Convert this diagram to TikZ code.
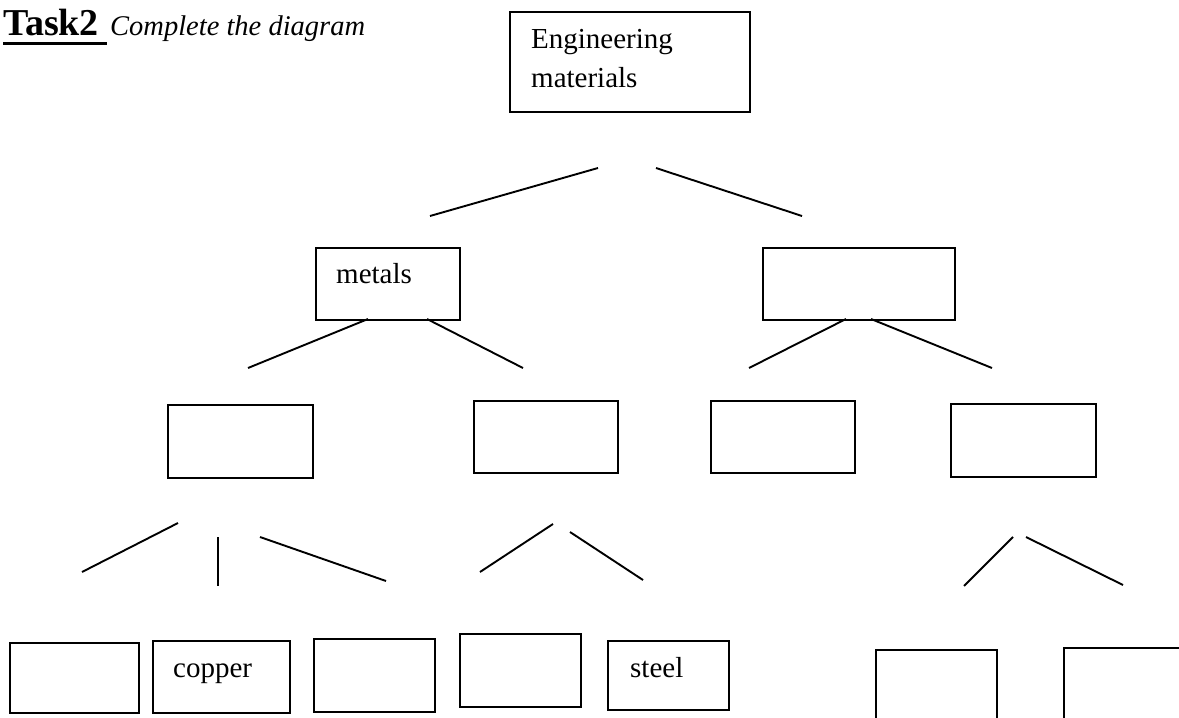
\documentclass[tikz,border=0pt]{standalone}
\usepackage{fontspec}
\setmainfont{Liberation Serif}
\begin{document}
\begin{tikzpicture}[x=1pt,y=-1pt,
  box/.style={draw=black,line width=2pt,rectangle,inner sep=0pt,anchor=north west},
  lbl/.style={inner sep=0pt,anchor=base west,font=\fontsize{29}{39}\selectfont},
  conn/.style={draw=black,line width=1.9pt}]
\clip (0,0) rectangle (1179,718);
\useasboundingbox (0,0) rectangle (1179,718);
% title
\node[inner sep=0pt,anchor=base west,font=\fontsize{38}{42}\selectfont\bfseries] (task) at (3,35) {Task2};
\node[inner sep=0pt,anchor=base west,font=\fontsize{28.5}{34}\selectfont\itshape] (sub) at (110,35) {Complete the diagram};
\coordinate (ul1) at (3,43);
\coordinate (ul2) at (107,43);
\draw[line width=3pt] (ul1) -- (ul2);
% boxes, level 0/1
\node[box,minimum width=240pt,minimum height=100pt] (eng) at (509,11) {};
\node[box,minimum width=144pt,minimum height=72pt] (met) at (315,247) {};
\node[box,minimum width=192pt,minimum height=72pt] (nonmet) at (762,247) {};
% level 2
\node[box,minimum width=145pt,minimum height=73pt] (b21) at (167,404) {};
\node[box,minimum width=144pt,minimum height=72pt] (b22) at (473,400) {};
\node[box,minimum width=144pt,minimum height=72pt] (b23) at (710,400) {};
\node[box,minimum width=145pt,minimum height=73pt] (b24) at (950,403) {};
% level 3
\node[box,minimum width=129pt,minimum height=70pt] (b31) at (9,642) {};
\node[box,minimum width=137pt,minimum height=72pt] (b32) at (152,640) {};
\node[box,minimum width=121pt,minimum height=73pt] (b33) at (313,638) {};
\node[box,minimum width=121pt,minimum height=73pt] (b34) at (459,633) {};
\node[box,minimum width=121pt,minimum height=69pt] (b35) at (607,640) {};
\node[box,minimum width=121pt,minimum height=90pt] (b36) at (875,649) {};
\node[box,minimum width=140pt,minimum height=90pt] (b37) at (1063,647) {};
% texts
\node[lbl] (tEng) at (531,48) {Engineering};
\node[lbl] (tMat) at (531,87) {materials};
\node[lbl] (tMet) at (336,283) {metals};
\node[lbl] (tCop) at (173,677) {copper};
\node[lbl] (tSte) at (630,677) {steel};
% line end points
\coordinate (a1) at (430,216); \coordinate (a2) at (598,168);
\coordinate (a3) at (656,168); \coordinate (a4) at (802,216);
\coordinate (m1) at (248,368); \coordinate (m2) at (368,319);
\coordinate (m3) at (427,319); \coordinate (m4) at (523,368);
\coordinate (n1) at (749,368); \coordinate (n2) at (846,319);
\coordinate (n3) at (871,319); \coordinate (n4) at (992,368);
\coordinate (p1) at (82,572);  \coordinate (p2) at (178,523);
\coordinate (p3) at (218,537); \coordinate (p4) at (218,586);
\coordinate (p5) at (260,537); \coordinate (p6) at (386,581);
\coordinate (q1) at (480,572); \coordinate (q2) at (553,524);
\coordinate (q3) at (570,532); \coordinate (q4) at (643,580);
\coordinate (r1) at (964,586); \coordinate (r2) at (1013,537);
\coordinate (r3) at (1026,537); \coordinate (r4) at (1123,585);
\draw[conn] (a1) -- (a2);
\draw[conn] (a3) -- (a4);
\draw[conn] (m1) -- (m2);
\draw[conn] (m3) -- (m4);
\draw[conn] (n1) -- (n2);
\draw[conn] (n3) -- (n4);
\draw[conn] (p1) -- (p2);
\draw[conn] (p3) -- (p4);
\draw[conn] (p5) -- (p6);
\draw[conn] (q1) -- (q2);
\draw[conn] (q3) -- (q4);
\draw[conn] (r1) -- (r2);
\draw[conn] (r3) -- (r4);
\end{tikzpicture}
\end{document}
